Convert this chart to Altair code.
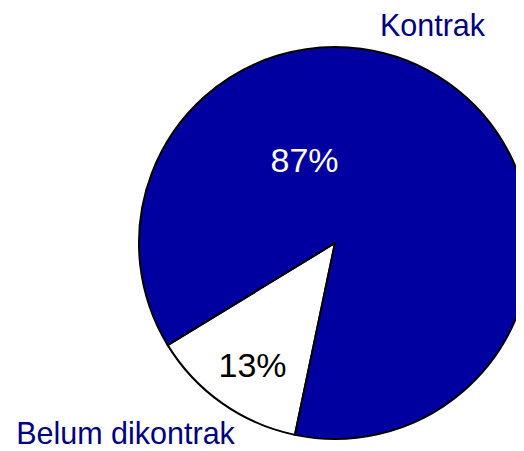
import math
import altair as alt
import pandas as pd

categories = ["Belum dikontrak", "Kontrak"]
values = [13, 87]
pct_labels = ["13%", "87%"]
slice_colors = ["#FFFFFF", "#0000A0"]

df = pd.DataFrame({"kategori": categories, "nilai": values, "urutan": [0, 1]})

start = math.radians(191.8)

pie = alt.Chart(df).mark_arc(stroke="black", strokeWidth=2, radius=196).encode(
    theta=alt.Theta("nilai:Q", stack=True,
                    scale=alt.Scale(range=[start, start + 2 * math.pi])),
    color=alt.Color("kategori:N",
                    scale=alt.Scale(domain=categories, range=slice_colors),
                    legend=None),
    order=alt.Order("urutan:Q"),
    x=alt.value(327),
    y=alt.value(235),
)

def label(text, x, y, color, size):
    return alt.Chart(pd.DataFrame({"t": [text]})).mark_text(
        x=x, y=y, align="center", baseline="alphabetic",
        font="Liberation Sans", fontSize=size, color=color,
    ).encode(text="t:N")

layers = [
    pie,
    label(categories[1], 424.5, 27.5, "#000080", 30.5),
    label(categories[0], 117.5, 435.5, "#000080", 30.5),
    label(pct_labels[1], 296.5, 164, "#FFFFFF", 34),
    label(pct_labels[0], 244.5, 369, "#000000", 34),
]

chart = alt.layer(*layers).properties(
    width=508, height=442,
    autosize=alt.AutoSizeParams(type="none"),
    padding=0,
).configure_view(stroke=None)

chart.save("out.html", embed_options={"renderer": "svg", "actions": False})
